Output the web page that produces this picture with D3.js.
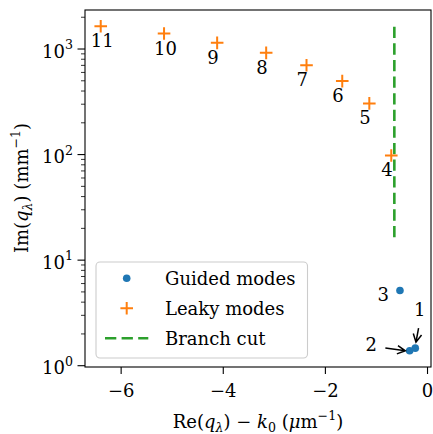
<!DOCTYPE html>
<html>
<head>
<meta charset="utf-8">
<script src="https://cdn.jsdelivr.net/npm/d3@7"></script>
<style>
  body { margin: 0; background: #fff; }
  svg { display: block; }
  text { font-family: "DejaVu Serif", serif; fill: #000; }
</style>
</head>
<body>
<svg id="chart" width="433" height="434"></svg>
<script>
// Guided modes (numbered 1–3)
const guidedLabels = ["1", "2", "3"];
const guidedRe = [-0.23, -0.34, -0.53];
const guidedIm = [1.45, 1.37, 5.1];

// Leaky modes (numbered 4–11)
const leakyLabels = ["4", "5", "6", "7", "8", "9", "10", "11"];
const leakyRe = [-0.70, -1.13, -1.66, -2.36, -3.15, -4.11, -5.15, -6.39];
const leakyIm = [97, 302, 491, 695, 910, 1132, 1387, 1626];

// Branch cut segment
const branchRe = [-0.64, -0.64];
const branchIm = [16.3, 1626];

// Axis ticks and legend entries
const xTicks = [-6, -4, -2, 0];
const yTickExps = [0, 1, 2, 3];
const legendLabels = ["Guided modes", "Leaky modes", "Branch cut"];

const C_BLUE = "#1f77b4", C_ORANGE = "#ff7f0e", C_GREEN = "#2ca02c";
const FS = 18;

const svg = d3.select("#chart");
const plot = { left: 85, right: 431, top: 10, bottom: 367 };

// Domains with 5% padding (log-space for y)
const allRe = guidedRe.concat(leakyRe, branchRe);
const allIm = guidedIm.concat(leakyIm, branchIm);
const [rMin, rMax] = d3.extent(allRe);
const rPad = (rMax - rMin) * 0.05;
const [lMin, lMax] = d3.extent(allIm.map(Math.log10));
const lPad = (lMax - lMin) * 0.05;

const x = d3.scaleLinear().domain([rMin - rPad, rMax + rPad]).range([plot.left, plot.right]);
const y = d3.scaleLog().domain([10 ** (lMin - lPad), 10 ** (lMax + lPad)]).range([plot.bottom, plot.top]);

// x axis
const xAxis = svg.append("g")
  .attr("transform", `translate(0,${plot.bottom})`)
  .call(d3.axisBottom(x).tickValues(xTicks).tickSize(7).tickSizeOuter(0).tickPadding(10)
    .tickFormat(d3.format("")));
xAxis.select(".domain").remove();
xAxis.selectAll(".tick line").attr("stroke", "#000").attr("stroke-width", 1.1);
xAxis.selectAll(".tick text").attr("font-size", FS).attr("font-family", "DejaVu Serif");

// y axis: minor ticks
const [yLo, yHi] = y.domain();
const minor = [];
for (let e = Math.floor(Math.log10(yLo)); e <= Math.ceil(Math.log10(yHi)); e++) {
  for (let m = 2; m <= 9; m++) {
    const v = m * 10 ** e;
    if (v >= yLo && v <= yHi) minor.push(v);
  }
}
const yMinor = svg.append("g")
  .attr("transform", `translate(${plot.left},0)`)
  .call(d3.axisLeft(y).tickValues(minor).tickSize(4).tickSizeOuter(0).tickFormat(() => ""));
yMinor.select(".domain").remove();
yMinor.selectAll(".tick line").attr("stroke", "#000").attr("stroke-width", 0.8);

// y axis: major ticks with 10^n labels
const yMajor = svg.append("g")
  .attr("transform", `translate(${plot.left},0)`)
  .call(d3.axisLeft(y).tickValues(yTickExps.map(e => 10 ** e)).tickSize(7.5).tickSizeOuter(0)
    .tickFormat(() => ""));
yMajor.select(".domain").remove();
yMajor.selectAll(".tick line").attr("stroke", "#000").attr("stroke-width", 1.1);
yMajor.selectAll(".tick text").remove();
yMajor.selectAll(".tick").each(function (d) {
  const t = d3.select(this).append("text")
    .attr("x", -12).attr("y", 8.5).attr("text-anchor", "end").attr("font-size", FS);
  t.append("tspan").text("10");
  t.append("tspan").attr("font-size", FS * 0.7).attr("dy", -8.5).text(String(Math.round(Math.log10(d))));
});

// frame
svg.append("rect")
  .attr("x", plot.left).attr("y", plot.top)
  .attr("width", plot.right - plot.left).attr("height", plot.bottom - plot.top)
  .attr("fill", "none").attr("stroke", "#000").attr("stroke-width", 1.1);

// branch cut (drawn upward from its lower end)
svg.append("path")
  .attr("d", d3.line()([[x(branchRe[0]), y(branchIm[0])], [x(branchRe[1]), y(branchIm[1])]]))
  .attr("stroke", C_GREEN).attr("stroke-width", 2.6).attr("stroke-dasharray", "11.3,5.3")
  .attr("fill", "none");

// leaky modes
const plus = (g, cx, cy, r) => g.append("path")
  .attr("d", `M${cx - r},${cy}H${cx + r}M${cx},${cy - r}V${cy + r}`)
  .attr("stroke", C_ORANGE).attr("stroke-width", 2).attr("fill", "none");
const gLeaky = svg.append("g");
leakyRe.forEach((re, i) => plus(gLeaky, x(re), y(leakyIm[i]), 6.3));
svg.append("g").selectAll("text").data(leakyLabels).join("text")
  .attr("x", (d, i) => x(leakyRe[i]) - 10)
  .attr("y", (d, i) => y(leakyIm[i]) + 21)
  .attr("font-size", FS).text(d => d);

// guided modes
svg.append("g").selectAll("circle").data(guidedRe).join("circle")
  .attr("cx", d => x(d)).attr("cy", (d, i) => y(guidedIm[i])).attr("r", 3.8)
  .attr("fill", C_BLUE);

// guided mode labels and arrows (offsets in px from the marked point)
const guidedNotes = {
  "1": { tx: 4.5, ty: -32, anchor: "middle", arrow: [[3.3, -20], [0.7, -6]] },
  "2": { tx: -32.6, ty: 0.5, anchor: "end", arrow: [[-24.3, -2.7], [-4.3, 0]] },
  "3": { tx: -11, ty: 10, anchor: "end", arrow: null }
};
const gNotes = svg.append("g");
guidedLabels.forEach((lab, i) => {
  const px = x(guidedRe[i]), py = y(guidedIm[i]);
  const n = guidedNotes[lab];
  gNotes.append("text").attr("x", px + n.tx).attr("y", py + n.ty)
    .attr("text-anchor", n.anchor).attr("font-size", FS).text(lab);
  if (n.arrow) {
    const [s, e] = n.arrow;
    const x0 = px + s[0], y0 = py + s[1], x1 = px + e[0], y1 = py + e[1];
    const L = Math.hypot(x1 - x0, y1 - y0), ux = (x1 - x0) / L, uy = (y1 - y0) / L;
    const hl = 8, hw = 4.2;
    const bx = x1 - ux * hl, by = y1 - uy * hl;
    gNotes.append("path")
      .attr("d", `M${x0},${y0}L${x1},${y1}M${bx - uy * hw},${by + ux * hw}L${x1},${y1}L${bx + uy * hw},${by - ux * hw}`)
      .attr("stroke", "#000").attr("stroke-width", 1.5).attr("fill", "none")
      .attr("stroke-linejoin", "miter");
  }
});

// legend
const lg = svg.append("g");
lg.append("rect").attr("x", 96).attr("y", 262).attr("width", 211.5).attr("height", 96).attr("rx", 4)
  .attr("fill", "#fff").attr("fill-opacity", 0.8).attr("stroke", "#cccccc").attr("stroke-width", 1.1);
const rows = [278.3, 308.3, 338.3];
lg.append("circle").attr("cx", 126.7).attr("cy", rows[0]).attr("r", 3.8).attr("fill", C_BLUE);
plus(lg, 126.7, rows[1], 6.3);
lg.append("path").attr("d", `M105,${rows[2]}H148.3`)
  .attr("stroke", C_GREEN).attr("stroke-width", 2.6).attr("stroke-dasharray", "11.3,5.3");
legendLabels.forEach((t, i) => lg.append("text")
  .attr("x", 165).attr("y", rows[i] + 6.5).attr("font-size", FS).text(t));

// axis labels
const xl = svg.append("text").attr("x", 258).attr("y", 428).attr("text-anchor", "middle").attr("font-size", FS);
xl.append("tspan").text("Re(");
xl.append("tspan").attr("font-style", "italic").text("q");
xl.append("tspan").attr("font-style", "italic").attr("font-size", FS * 0.7).attr("dy", 4).text("λ");
xl.append("tspan").attr("dy", -4).text(") − ");
xl.append("tspan").attr("font-style", "italic").text("k");
xl.append("tspan").attr("font-size", FS * 0.7).attr("dy", 4).text("0");
xl.append("tspan").attr("dy", -4).text(" (");
xl.append("tspan").attr("font-style", "italic").text("μ");
xl.append("tspan").text("m");
xl.append("tspan").attr("font-size", FS * 0.7).attr("dy", -8).text("−1");
xl.append("tspan").attr("dy", 8).text(")");

const yl = svg.append("text").attr("transform", "translate(28,188) rotate(-90)")
  .attr("text-anchor", "middle").attr("font-size", FS);
yl.append("tspan").text("Im(");
yl.append("tspan").attr("font-style", "italic").text("q");
yl.append("tspan").attr("font-style", "italic").attr("font-size", FS * 0.7).attr("dy", 4).text("λ");
yl.append("tspan").attr("dy", -4).text(") (mm");
yl.append("tspan").attr("font-size", FS * 0.7).attr("dy", -8).text("−1");
yl.append("tspan").attr("dy", 8).text(")");
</script>
</body>
</html>
